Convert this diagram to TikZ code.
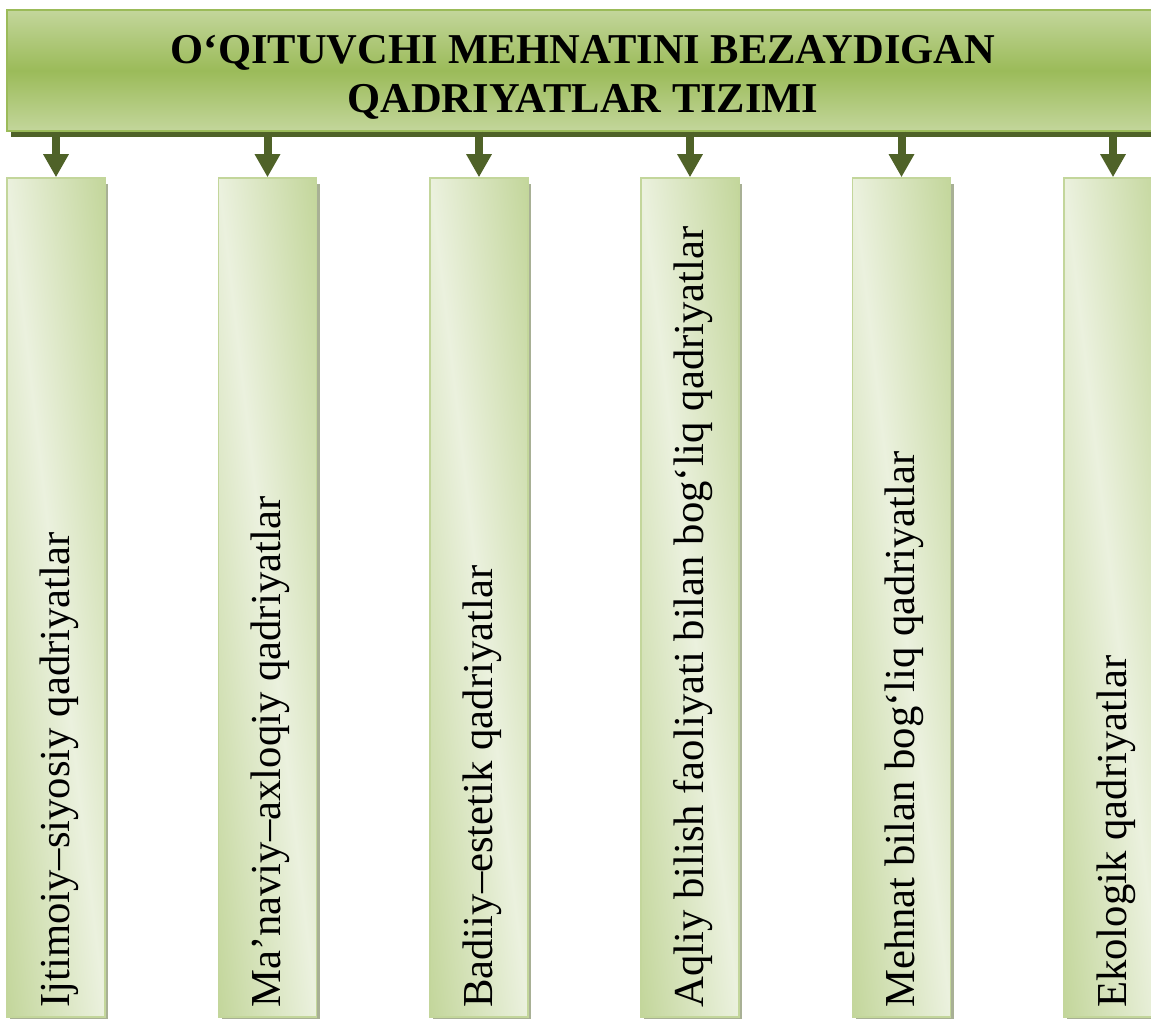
\documentclass[tikz,border=0pt]{standalone}
\usepackage{fontspec}
\setmainfont{Liberation Serif}
\usetikzlibrary{arrows.meta,calc}
\definecolor{hlight}{HTML}{C3D69B}
\definecolor{hmid}{HTML}{9BBB59}
\definecolor{hborder}{HTML}{9BBB59}
\definecolor{hshadow}{HTML}{4F6228}
\definecolor{clight}{HTML}{EBF1DE}
\definecolor{cdark}{HTML}{C3D69B}
\definecolor{cborder}{HTML}{C3D69B}
\definecolor{cshadow}{HTML}{A8B095}
\definecolor{arrowc}{HTML}{4F6228}
\begin{document}
\begin{tikzpicture}[x=1pt,y=-1pt,
  hdbox/.style={rectangle, inner sep=0pt, minimum width=1152pt, minimum height=121pt,
    draw=hborder, line width=1.5pt, top color=hlight, bottom color=hlight, middle color=hmid},
  colbox/.style={rectangle, inner sep=0pt, minimum width=98pt, minimum height=839pt,
    draw=cborder, line width=1.5pt,
    path picture={
      \begin{scope}[transform canvas={rotate around={6.66:(path picture bounding box.center)}}]
        \shade[left color=cdark, right color=cdark, middle color=clight]
          ($(path picture bounding box.center)+(-97,-470)$) rectangle
          ($(path picture bounding box.center)+(97,470)$);
      \end{scope}}},
  colshadow/.style={fill=cshadow},
  coltext/.style={rotate=90, anchor=base west, inner sep=0pt, font=\fontsize{42.7}{50}\selectfont},
  hdtext/.style={align=center, inner sep=0pt, font=\bfseries\fontsize{42.5}{49}\selectfont},
  arr/.style={draw=arrowc, line width=8pt, -{Triangle[width=24pt,length=23pt]}}
]
\fill[white] (0,0) rectangle (1151,1019);
\useasboundingbox (0,0) rectangle (1151,1019);

% header shadow and header
\fill[hshadow] (11,16) rectangle (1163,137);
\node[hdbox] (hd) at (583,70.5) {};
\node[hdtext] (ht) at (583,77) {O‘QITUVCHI MEHNATINI BEZAYDIGAN\\QADRIYATLAR TIZIMI};

% column shadows
\foreach \L in {7,218.5,430,641,852.5,1064}{
  \fill[colshadow] (\L+3,184) rectangle (\L+101,1023);
}

% columns
\node[colbox] (c1) at (56,597.5) {};
\node[colbox] (c2) at (267.5,597.5) {};
\node[colbox] (c3) at (479,597.5) {};
\node[colbox] (c4) at (690,597.5) {};
\node[colbox] (c5) at (901.5,597.5) {};
\node[colbox] (c6) at (1113,597.5) {};

% arrows
\foreach \c in {c1,c2,c3,c4,c5,c6}{
  \draw[arr] (\c.north |- hd.south) -- (\c.north);
}

% column texts
\node[coltext] (t1) at (69,1008) {Ijtimoiy–siyosiy qadriyatlar};
\node[coltext] (t2) at (280.5,1008) {Ma’naviy–axloqiy qadriyatlar};
\node[coltext] (t3) at (492,1008) {Badiiy–estetik qadriyatlar};
\node[coltext] (t4) at (703,1008) {Aqliy bilish faoliyati bilan bog‘liq qadriyatlar};
\node[coltext] (t5) at (914.5,1008) {Mehnat bilan bog‘liq qadriyatlar};
\node[coltext] (t6) at (1126,1008) {Ekologik qadriyatlar};
\end{tikzpicture}
\end{document}
